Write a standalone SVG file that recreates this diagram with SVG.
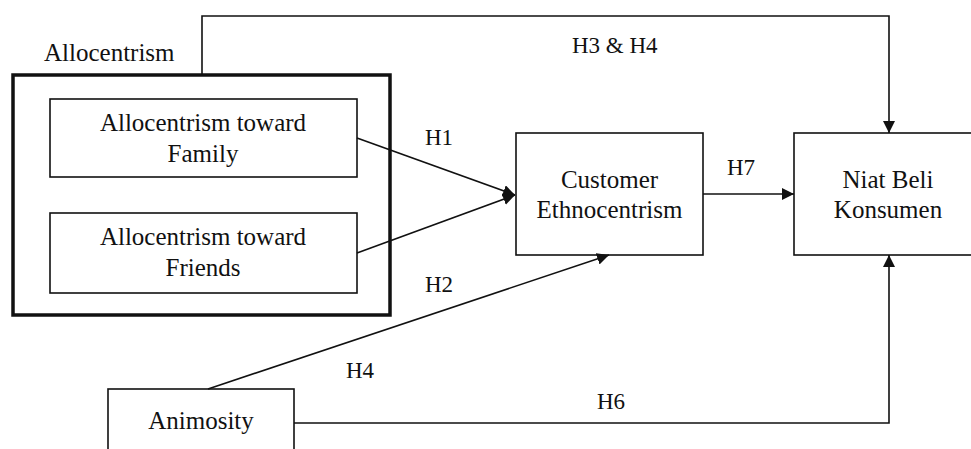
<svg xmlns="http://www.w3.org/2000/svg" width="971" height="449" viewBox="0 0 971 449">
<style>
text{font-family:"Liberation Serif","Times New Roman",serif;font-size:25px;fill:#111}
.lbl{font-size:23px}
.box{fill:#fff;stroke:#111;stroke-width:1.6}
.outer{fill:none;stroke:#111;stroke-width:3.5}
.ln{fill:none;stroke:#111;stroke-width:1.6}
</style>
<defs>
<marker id="ah" viewBox="0 0 10 10" refX="10" refY="5" markerWidth="12" markerHeight="12" markerUnits="userSpaceOnUse" orient="auto">
<path d="M0,0 L10,5 L0,10 z" fill="#111"/>
</marker>
</defs>
<rect width="971" height="449" fill="#fff"/>
<g id="allocentrism">
<rect class="outer" x="13" y="75" width="377" height="240"/>
<text x="44" y="61">Allocentrism</text>
</g>
<g id="family">
<rect class="box" x="50" y="99" width="307" height="78"/>
<text x="203" y="131" text-anchor="middle">Allocentrism toward</text>
<text x="203" y="162" text-anchor="middle">Family</text>
</g>
<g id="friends">
<rect class="box" x="50" y="213" width="307" height="80"/>
<text x="203" y="245" text-anchor="middle">Allocentrism toward</text>
<text x="203" y="276" text-anchor="middle">Friends</text>
</g>
<g id="ethno">
<rect class="box" x="516" y="133" width="187" height="122"/>
<text x="609.5" y="188" text-anchor="middle">Customer</text>
<text x="609.5" y="218" text-anchor="middle">Ethnocentrism</text>
</g>
<g id="niat">
<rect class="box" x="794" y="133" width="190" height="122"/>
<text x="888" y="188" text-anchor="middle">Niat Beli</text>
<text x="888" y="218" text-anchor="middle">Konsumen</text>
</g>
<g id="animosity">
<rect class="box" x="108" y="389" width="186" height="70"/>
<text x="201" y="429" text-anchor="middle">Animosity</text>
</g>
<g id="connectors">
<polyline class="ln" points="202,75 202,16 889,16 889,133" marker-end="url(#ah)"/>
<line class="ln" x1="357" y1="138" x2="515" y2="195" marker-end="url(#ah)"/>
<line class="ln" x1="357" y1="253" x2="515" y2="195" marker-end="url(#ah)"/>
<line class="ln" x1="703" y1="194" x2="794" y2="194" marker-end="url(#ah)"/>
<line class="ln" x1="208" y1="389" x2="609" y2="255" marker-end="url(#ah)"/>
<polyline class="ln" points="294,423 889,423 889,255" marker-end="url(#ah)"/>
</g>
<g id="labels">
<text class="lbl" x="572" y="53">H3 &amp; H4</text>
<text class="lbl" x="425" y="145">H1</text>
<text class="lbl" x="425" y="292">H2</text>
<text class="lbl" x="727" y="175">H7</text>
<text class="lbl" x="346" y="378">H4</text>
<text class="lbl" x="597" y="409">H6</text>
</g>
</svg>
